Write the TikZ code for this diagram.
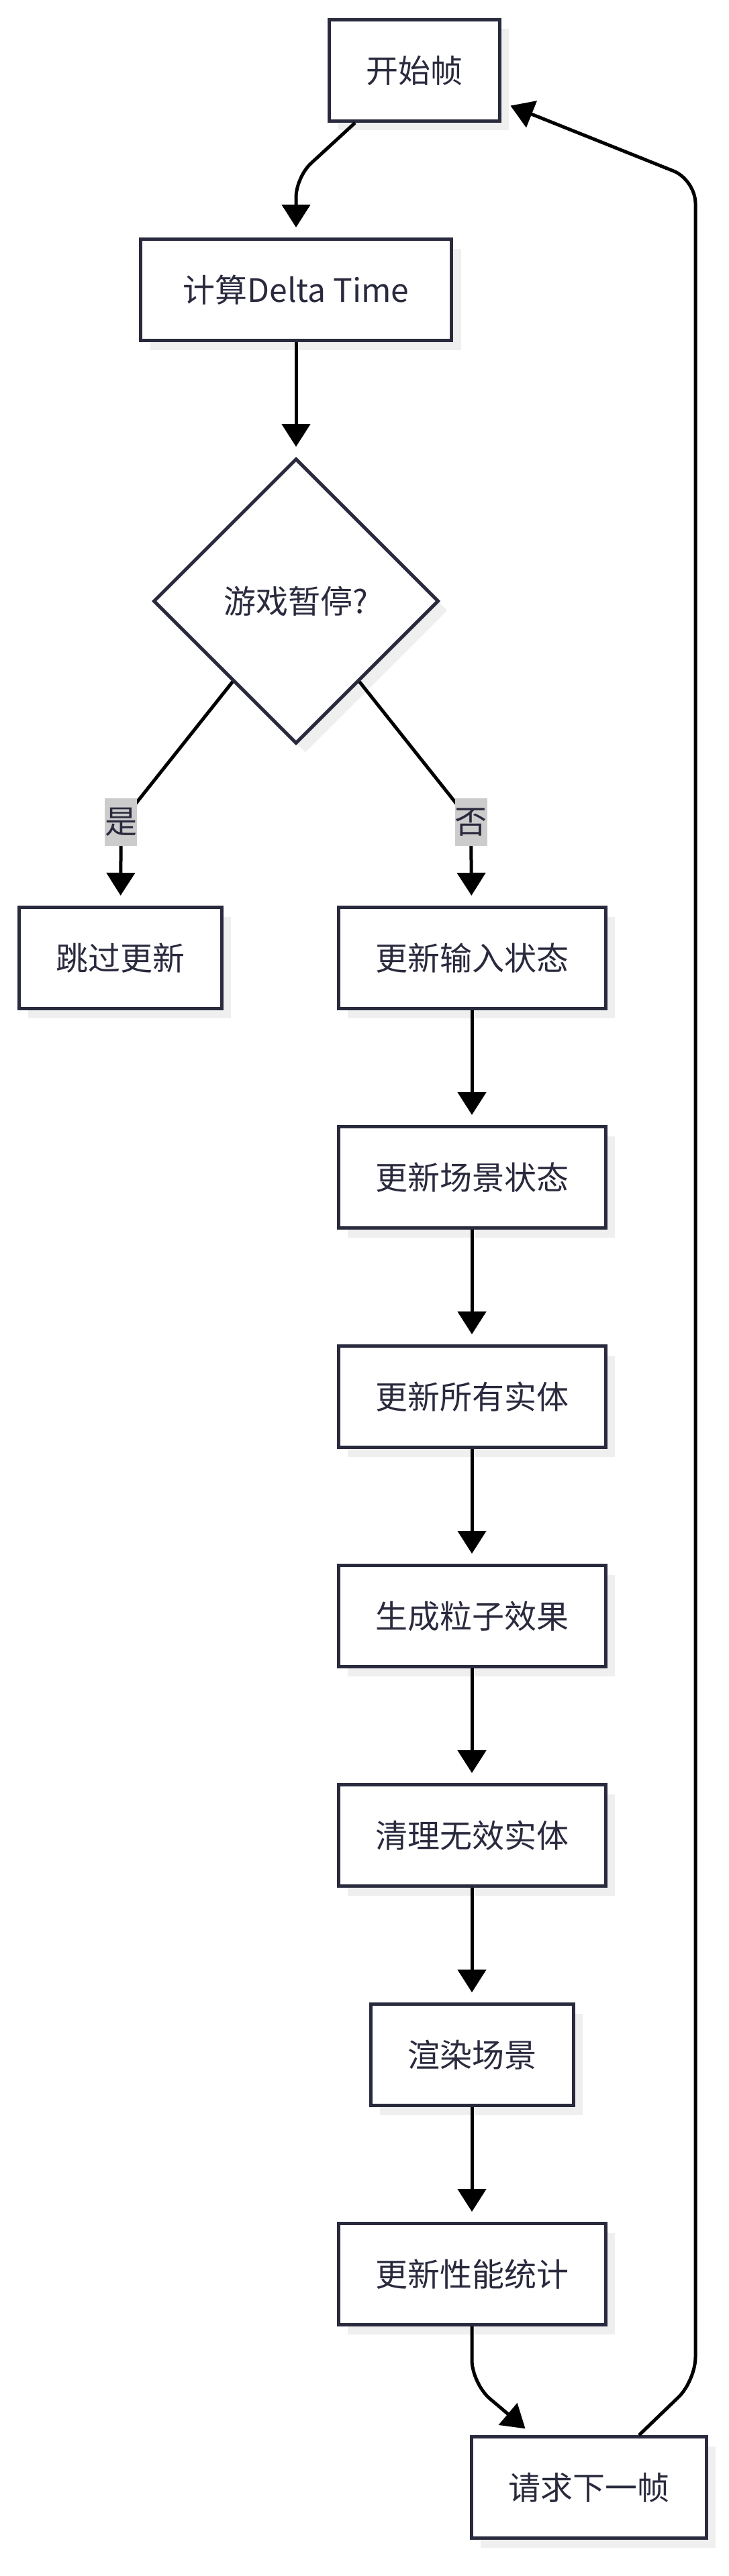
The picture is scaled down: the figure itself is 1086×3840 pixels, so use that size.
\documentclass[tikz,border=0pt]{standalone}
\usepackage{fontspec}
\setmainfont{Noto Sans CJK SC}
\usetikzlibrary{positioning,shapes.geometric,arrows.meta,shadows,calc}
\definecolor{ink}{RGB}{42,42,62}
\definecolor{shade}{RGB}{239,239,239}
\definecolor{tagbg}{RGB}{204,204,204}

\begin{document}
\begin{tikzpicture}[x=1pt, y=-1pt,
    node distance=171pt,
    every node/.style={font=\fontsize{48}{58}\selectfont, text=ink},
    stage/.style={draw=ink, line width=5pt, fill=white, minimum height=151pt, inner xsep=55pt,
        drop shadow={shadow xshift=14pt, shadow yshift=-14pt, opacity=1, fill=shade}},
    check/.style={stage, diamond, aspect=1, minimum width=425pt, minimum height=425pt, inner sep=0pt},
    tag/.style={fill=tagbg, sharp corners, inner sep=0pt, minimum height=71pt},
    flow/.style={draw=black, line width=5pt, -{Triangle[length=34pt,width=42pt]}, shorten >=15pt}]

    \useasboundingbox (0,0) rectangle (1086,3840);

    \node[stage] (start) at (617,105) {开始帧};
    \node[stage, minimum width=463pt] (delta) at (441,432) {计算Delta Time};
    \node[check] (paused) at (441,896) {游戏暂停?};
    \node[stage] (skip) at (179,1428) {跳过更新};
    \node[stage] (input) at (703,1428) {更新输入状态};
    \node[stage, below=of input] (scene) {更新场景状态};
    \node[stage, below=of scene] (entities) {更新所有实体};
    \node[stage, below=of entities] (particles) {生成粒子效果};
    \node[stage, below=of particles] (cleanup) {清理无效实体};
    \node[stage, below=of cleanup] (render) {渲染场景};
    \node[stage, below=of render] (stats) {更新性能统计};
    \node[stage] (next) at (877,3708) {请求下一帧};

    \coordinate (turnlo) at (1036,3549);
    \coordinate (turnhi) at (1036,268);

    \draw[flow, rounded corners=30pt] ([xshift=-88pt]start.south) -- ++(-88,81) -- (delta);
    \draw[flow] (delta) -- (paused);
    \draw[flow, rounded corners=30pt] ($(paused.south)!0.44!(paused.west)$) -- ++(-166,209)
        node[tag] {是} -- (skip);
    \draw[flow, rounded corners=30pt] ($(paused.south)!0.44!(paused.east)$) -- ++(166,209)
        node[tag] {否} -- (input);
    \foreach \a/\b in {input/scene, scene/entities, entities/particles,
        particles/cleanup, cleanup/render, render/stats}
        \draw[flow] (\a) -- (\b);
    \draw[flow, rounded corners=35pt] (stats.south) -- ++(0,85) -- ([xshift=-83pt]next.north);
    \draw[flow, rounded corners=35pt] ([xshift=75pt]next.north) -- (turnlo) -- (turnhi)
        -- ([yshift=-47pt]start.east);
\end{tikzpicture}
\end{document}
